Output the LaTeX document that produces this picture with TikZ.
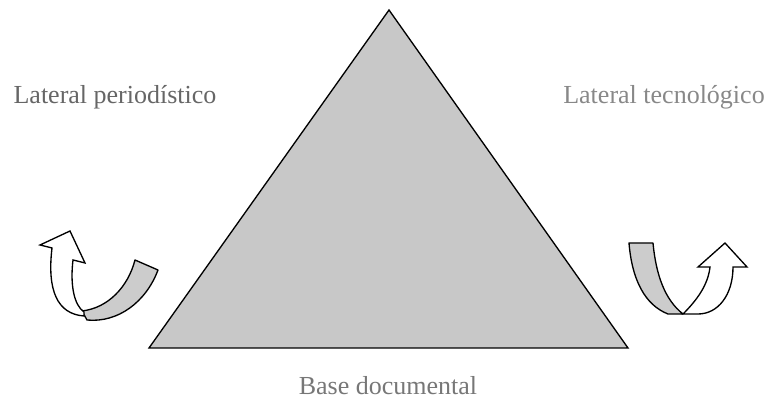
\documentclass[tikz,border=0pt]{standalone}
\usepackage{fontspec}
\setmainfont{Liberation Serif}
\usepackage{tikz}
\usetikzlibrary{positioning}
\definecolor{TriGray}{RGB}{200,200,200}
\definecolor{BandGray}{RGB}{204,204,204}
\definecolor{LeftText}{RGB}{102,102,102}
\definecolor{RightText}{RGB}{136,136,136}
\definecolor{BaseText}{RGB}{119,119,119}

\begin{document}
\begin{tikzpicture}[
  x=0.75pt,y=-0.75pt,
  side/.style={font=\fontsize{19.5}{23}\selectfont,anchor=base},
  band/.style={draw=black,line width=1pt,fill=BandGray,line join=round},
  head/.style={draw=black,line width=1pt,fill=white,line join=miter},
]
\useasboundingbox (0,0) rectangle (768,402);
% triangle
\coordinate (apex) at (389,10);
\coordinate (bl) at (149,348);
\coordinate (br) at (628,348);
\fill[TriGray] (apex) -- (bl) -- (br) -- cycle;
\draw[line width=1pt] (apex) -- (bl) -- (br) -- cycle;
% labels
\node[side,text=LeftText] (perio) at (115,104) {Lateral periodístico};
\node[side,text=RightText] (tecno) at (664,104) {Lateral tecnológico};
\node[side,text=BaseText] (base) at (388,395) {Base documental};
% left arrow
\draw[band] (135,260) -- (158,270) .. controls (146,302) and (118,323) .. (87,320)
  -- (82,311) .. controls (108,308) and (128,287) .. cycle;
\draw[head] (84,316) .. controls (57,314) and (47,290) .. (52,248)
  -- (40,245) -- (70,231) -- (85,263) -- (73,260)
  .. controls (70,285) and (74,305) .. (84,312) -- cycle;
% right arrow
\draw[band] (629,243) -- (653,243) .. controls (656,275) and (665,300) .. (683,314)
  -- (668,314) .. controls (645,305) and (632,280) .. cycle;
\draw[head] (683,314) .. controls (697,300) and (708,285) .. (710,267)
  -- (698,267) -- (725,243) -- (747,267) -- (733,267)
  .. controls (733,295) and (718,314) .. (698,314) -- cycle;
\end{tikzpicture}
\end{document}
